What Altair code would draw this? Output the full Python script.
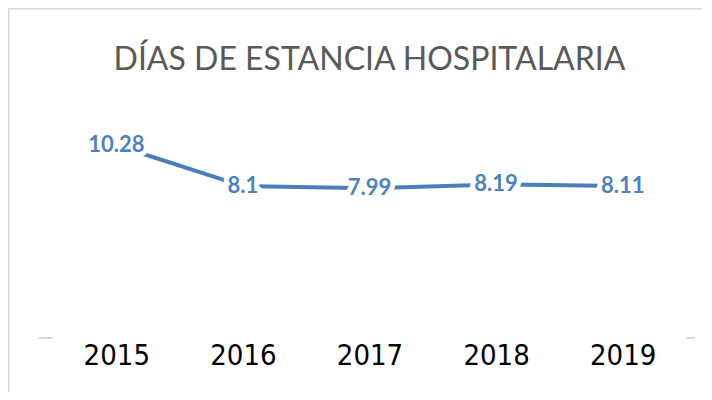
import altair as alt
import pandas as pd

years = ["2015", "2016", "2017", "2018", "2019"]
days = [10.28, 8.1, 7.99, 8.19, 8.11]
title_text = "DÍAS DE ESTANCIA HOSPITALARIA"

df = pd.DataFrame({"year": years, "days": days, "label": [str(v) for v in days]})

W, H = 633, 225
LINE = "#4A7EBB"
TXT = "#4F81BD"
GRID = "#D9D9D9"

base = alt.Chart(df)

x = alt.X("year:O", title=None, sort=years,
          scale=alt.Scale(type="point", padding=0.5),
          axis=alt.Axis(domain=False, ticks=False, grid=False, labelAngle=0,
                        labelFont="DejaVu Sans Condensed, Liberation Sans Narrow, sans-serif",
                        labelFontSize=29, labelColor="#000000", labelPadding=3))
y = alt.Y("days:Q", title=None, scale=alt.Scale(domain=[0, 12]), axis=None)

line = base.mark_line(color=LINE, strokeWidth=4).encode(x=x, y=y)

halo = base.mark_text(font="Lato", fontSize=22, fontWeight="bold", color="white",
                      stroke="white", strokeWidth=10, strokeJoin="round",
                      baseline="middle").encode(x=x, y=y, text="label:N")
labels = base.mark_text(font="Lato", fontSize=22, fontWeight="bold", color=TXT,
                        baseline="middle").encode(x=x, y=y, text="label:N")

title = alt.Chart(pd.DataFrame({"t": [title_text]})).mark_text(
    font="Lato", fontSize=32, color="#595959", baseline="alphabetic", align="center"
).encode(x=alt.value(W / 2), y=alt.value(-43), text="t:N")

dash_l = alt.Chart(pd.DataFrame({"a": [0]})).mark_rule(color=GRID, strokeWidth=2).encode(
    x=alt.value(-14), x2=alt.value(0), y=alt.value(H))
dash_r = alt.Chart(pd.DataFrame({"a": [0]})).mark_rule(color=GRID, strokeWidth=2).encode(
    x=alt.value(W), x2=alt.value(W + 9), y=alt.value(H))

frame_top = alt.Chart(pd.DataFrame({"a": [0]})).mark_rule(color=GRID, strokeWidth=2).encode(
    x=alt.value(-44.5), x2=alt.value(W + 60), y=alt.value(-104.5))
frame_left = alt.Chart(pd.DataFrame({"a": [0]})).mark_rule(color=GRID, strokeWidth=2).encode(
    x=alt.value(-44.5), y=alt.value(-104.5), y2=alt.value(H + 60))

chart = alt.layer(frame_top, frame_left, dash_l, dash_r, line, halo, labels, title).properties(
    width=W, height=H,
    background="white",
    autosize=alt.AutoSizeParams(type="none"),
    padding={"left": 45, "top": 105, "right": 16, "bottom": 54},
).configure_view(strokeWidth=0)

chart.save("out.html", embed_options={"renderer": "svg", "actions": False})
